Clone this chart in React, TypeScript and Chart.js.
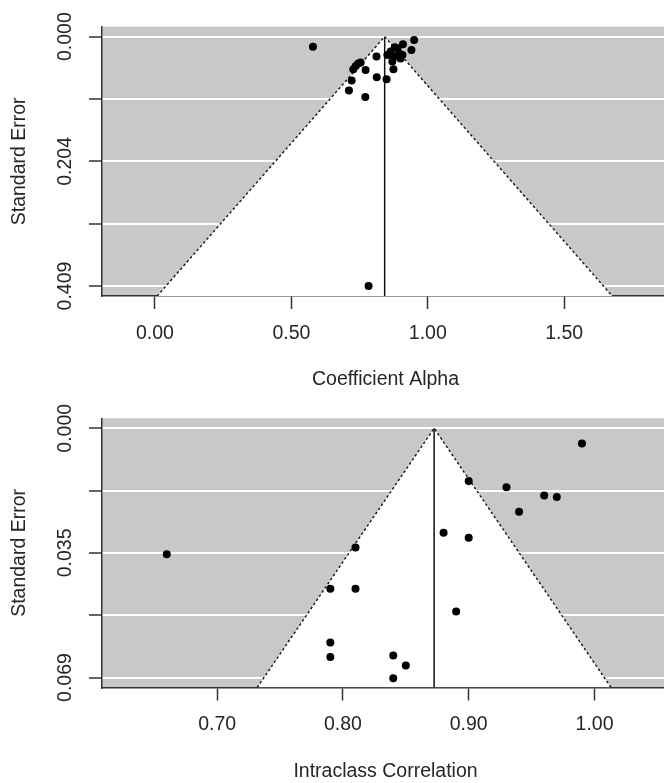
import React, { useEffect, useRef } from 'react';
import { Chart, registerables } from 'chart.js';

Chart.register(...registerables);

// ---------- Data: Coefficient Alpha funnel ----------
const alphaEstimates = [
  0.579, 0.950, 0.909, 0.879, 0.940, 0.895, 0.864, 0.876, 0.907, 0.852, 0.812, 0.870, 0.874,
  0.754, 0.736, 0.727, 0.772, 0.721, 0.813, 0.849, 0.711, 0.771, 0.783, 0.889, 0.900, 0.745,
];
const alphaStdErrors = [
  0.0164, 0.0054, 0.0124, 0.0173, 0.0218, 0.0272, 0.0245, 0.0327, 0.0299, 0.0299, 0.0327, 0.0409, 0.0533,
  0.0425, 0.0479, 0.0533, 0.0545, 0.0720, 0.0664, 0.0697, 0.0884, 0.0991, 0.409, 0.019, 0.036, 0.044,
];
const alphaSummary = 0.842;
const alphaXRange = [-0.194, 1.884];
const alphaXTickValues = [0, 0.5, 1.0, 1.5];
const alphaXTickLabels = ['0.00', '0.50', '1.00', '1.50'];
const alphaYTickValues = [0, 0.10225, 0.2045, 0.30675, 0.409];
const alphaYTickLabels = ['0.000', '', '0.204', '', '0.409'];

// ---------- Data: Intraclass Correlation funnel ----------
const iccEstimates = [
  0.99, 0.90, 0.93, 0.96, 0.97, 0.94, 0.88, 0.90, 0.66, 0.81, 0.79, 0.81, 0.89, 0.79, 0.79, 0.84, 0.85, 0.84,
];
const iccStdErrors = [
  0.0042, 0.0146, 0.0163, 0.0186, 0.0190, 0.0231, 0.0289, 0.0303, 0.0349, 0.0330, 0.0444, 0.0444, 0.0507,
  0.0593, 0.0633, 0.0629, 0.0657, 0.0692,
];
const iccSummary = 0.8725;
const iccXRange = [0.6085, 1.0592];
const iccXTickValues = [0.7, 0.8, 0.9, 1.0];
const iccXTickLabels = ['0.70', '0.80', '0.90', '1.00'];
const iccYTickValues = [0, 0.01725, 0.0345, 0.05175, 0.069];
const iccYTickLabels = ['0.000', '', '0.035', '', '0.069'];

const FONT = '"Liberation Sans", Arial, Helvetica, sans-serif';
const FONT_SIZE = 19.5;
const TEXT = '#262626';
const AXIS = '#333333';
const PANEL = '#c8c8c8';

type PanelProps = {
  estimates: number[];
  ses: number[];
  summary: number;
  xRange: number[];
  xTicks: number[];
  xLabels: string[];
  yTicks: number[];
  yLabels: string[];
  xTitle: string;
  top: number;
  height: number;
  padTop: number;
  chartBottom: number;
  titlePadBottom: number;
};

function FunnelPanel(props: PanelProps) {
  const ref = useRef<HTMLCanvasElement | null>(null);

  useEffect(() => {
    if (!ref.current) return;
    const seMax = props.yTicks[props.yTicks.length - 1];
    const yMin = -0.04 * seMax;
    const yMax = 1.04 * seMax;
    const z = 1.96;
    const triangle = [
      { x: props.summary - z * yMax, y: yMax },
      { x: props.summary, y: 0 },
      { x: props.summary + z * yMax, y: yMax },
    ];
    const refLine = [
      { x: props.summary, y: 0 },
      { x: props.summary, y: yMax },
    ];
    const points = props.estimates.map((v, i) => ({ x: v, y: props.ses[i] }));

    const panelPlugin = {
      id: 'funnelPanel',
      beforeDraw(chart: any) {
        const { ctx, chartArea } = chart;
        ctx.save();
        ctx.fillStyle = PANEL;
        ctx.fillRect(chartArea.left, chartArea.top, chartArea.right - chartArea.left, chartArea.bottom - chartArea.top);
        ctx.restore();
      },
      afterDraw(chart: any) {
        const { ctx, chartArea } = chart;
        const ys = chart.scales.y;
        ctx.save();
        ctx.font = `${FONT_SIZE}px ${FONT}`;
        ctx.fillStyle = TEXT;
        ctx.textAlign = 'center';
        ctx.textBaseline = 'middle';
        props.yLabels.forEach((lab, i) => {
          if (!lab) return;
          const py = ys.getPixelForValue(props.yTicks[i]);
          ctx.save();
          ctx.translate(chartArea.left - 36, py);
          ctx.rotate(-Math.PI / 2);
          ctx.fillText(lab, 0, 0);
          ctx.restore();
        });
        ctx.restore();
      },
    };

    const xAxisHeight = props.height - props.chartBottom;

    const chart = new Chart(ref.current, {
      type: 'scatter',
      data: {
        datasets: [
          {
            data: points,
            pointRadius: 4,
            pointBackgroundColor: '#000',
            pointBorderColor: '#000',
            pointBorderWidth: 0,
            showLine: false,
            order: 1,
          },
          {
            data: refLine,
            showLine: true,
            borderColor: '#111',
            borderWidth: 1.5,
            pointRadius: 0,
            fill: false,
            order: 2,
          },
          {
            data: triangle,
            showLine: true,
            borderColor: '#111',
            borderWidth: 1.4,
            borderDash: [2.5, 2.5],
            backgroundColor: '#ffffff',
            fill: { value: yMax },
            pointRadius: 0,
            tension: 0,
            order: 3,
          },
        ],
      } as any,
      options: {
        animation: false,
        responsive: false,
        events: [],
        layout: { padding: { top: props.padTop, right: 11, left: 0, bottom: 0 } },
        plugins: { legend: { display: false }, tooltip: { enabled: false } },
        scales: {
          x: {
            type: 'linear',
            min: props.xRange[0],
            max: props.xRange[1],
            z: 1,
            afterBuildTicks: (s: any) => {
              s.ticks = props.xTicks.map((v) => ({ value: v }));
            },
            afterFit: (s: any) => {
              s.height = xAxisHeight;
            },
            grid: {
              drawOnChartArea: false,
              drawTicks: true,
              tickLength: 13,
              tickColor: AXIS,
              tickWidth: 1.5,
            },
            border: { display: true, color: AXIS, width: 1.5 },
            ticks: {
              autoSkip: false,
              maxRotation: 0,
              minRotation: 0,
              padding: 12.5,
              color: TEXT,
              font: { family: FONT, size: FONT_SIZE },
              callback: (_v: any, i: number) => props.xLabels[i],
            },
            title: {
              display: true,
              text: props.xTitle,
              color: TEXT,
              font: { family: FONT, size: FONT_SIZE },
              padding: { top: 0, bottom: props.titlePadBottom },
            },
          },
          y: {
            type: 'linear',
            reverse: true,
            min: yMin,
            max: yMax,
            afterBuildTicks: (s: any) => {
              s.ticks = props.yTicks.map((v) => ({ value: v }));
            },
            afterFit: (s: any) => {
              s.width = 102;
            },
            grid: {
              color: '#ffffff',
              lineWidth: 2,
              drawTicks: true,
              tickLength: 13,
              tickColor: AXIS,
              tickWidth: 1.5,
            },
            border: { display: true, color: AXIS, width: 1.5 },
            ticks: { display: false },
            title: {
              display: true,
              text: 'Standard Error',
              color: TEXT,
              font: { family: FONT, size: FONT_SIZE },
              padding: { top: 8.3, bottom: 0 },
            },
          },
        },
      } as any,
      plugins: [panelPlugin],
    });

    return () => chart.destroy();
  }, []);

  return (
    <canvas
      ref={ref}
      width={680}
      height={props.height}
      style={{ position: 'absolute', left: 0, top: props.top, display: 'block' }}
    />
  );
}

export default function App() {
  return (
    <div
      style={{
        position: 'absolute',
        left: 0,
        top: 0,
        width: 664,
        height: 783,
        overflow: 'hidden',
        background: '#ffffff',
      }}
    >
      <FunnelPanel
        estimates={alphaEstimates}
        ses={alphaStdErrors}
        summary={alphaSummary}
        xRange={alphaXRange}
        xTicks={alphaXTickValues}
        xLabels={alphaXTickLabels}
        yTicks={alphaYTickValues}
        yLabels={alphaYTickLabels}
        xTitle="Coefficient Alpha"
        top={0}
        height={400}
        padTop={26.7}
        chartBottom={296}
        titlePadBottom={8.3}
      />
      <FunnelPanel
        estimates={iccEstimates}
        ses={iccStdErrors}
        summary={iccSummary}
        xRange={iccXRange}
        xTicks={iccXTickValues}
        xLabels={iccXTickLabels}
        yTicks={iccYTickValues}
        yLabels={iccYTickLabels}
        xTitle="Intraclass Correlation"
        top={390}
        height={393}
        padTop={28.3}
        chartBottom={297.5}
        titlePadBottom={0}
      />
    </div>
  );
}
